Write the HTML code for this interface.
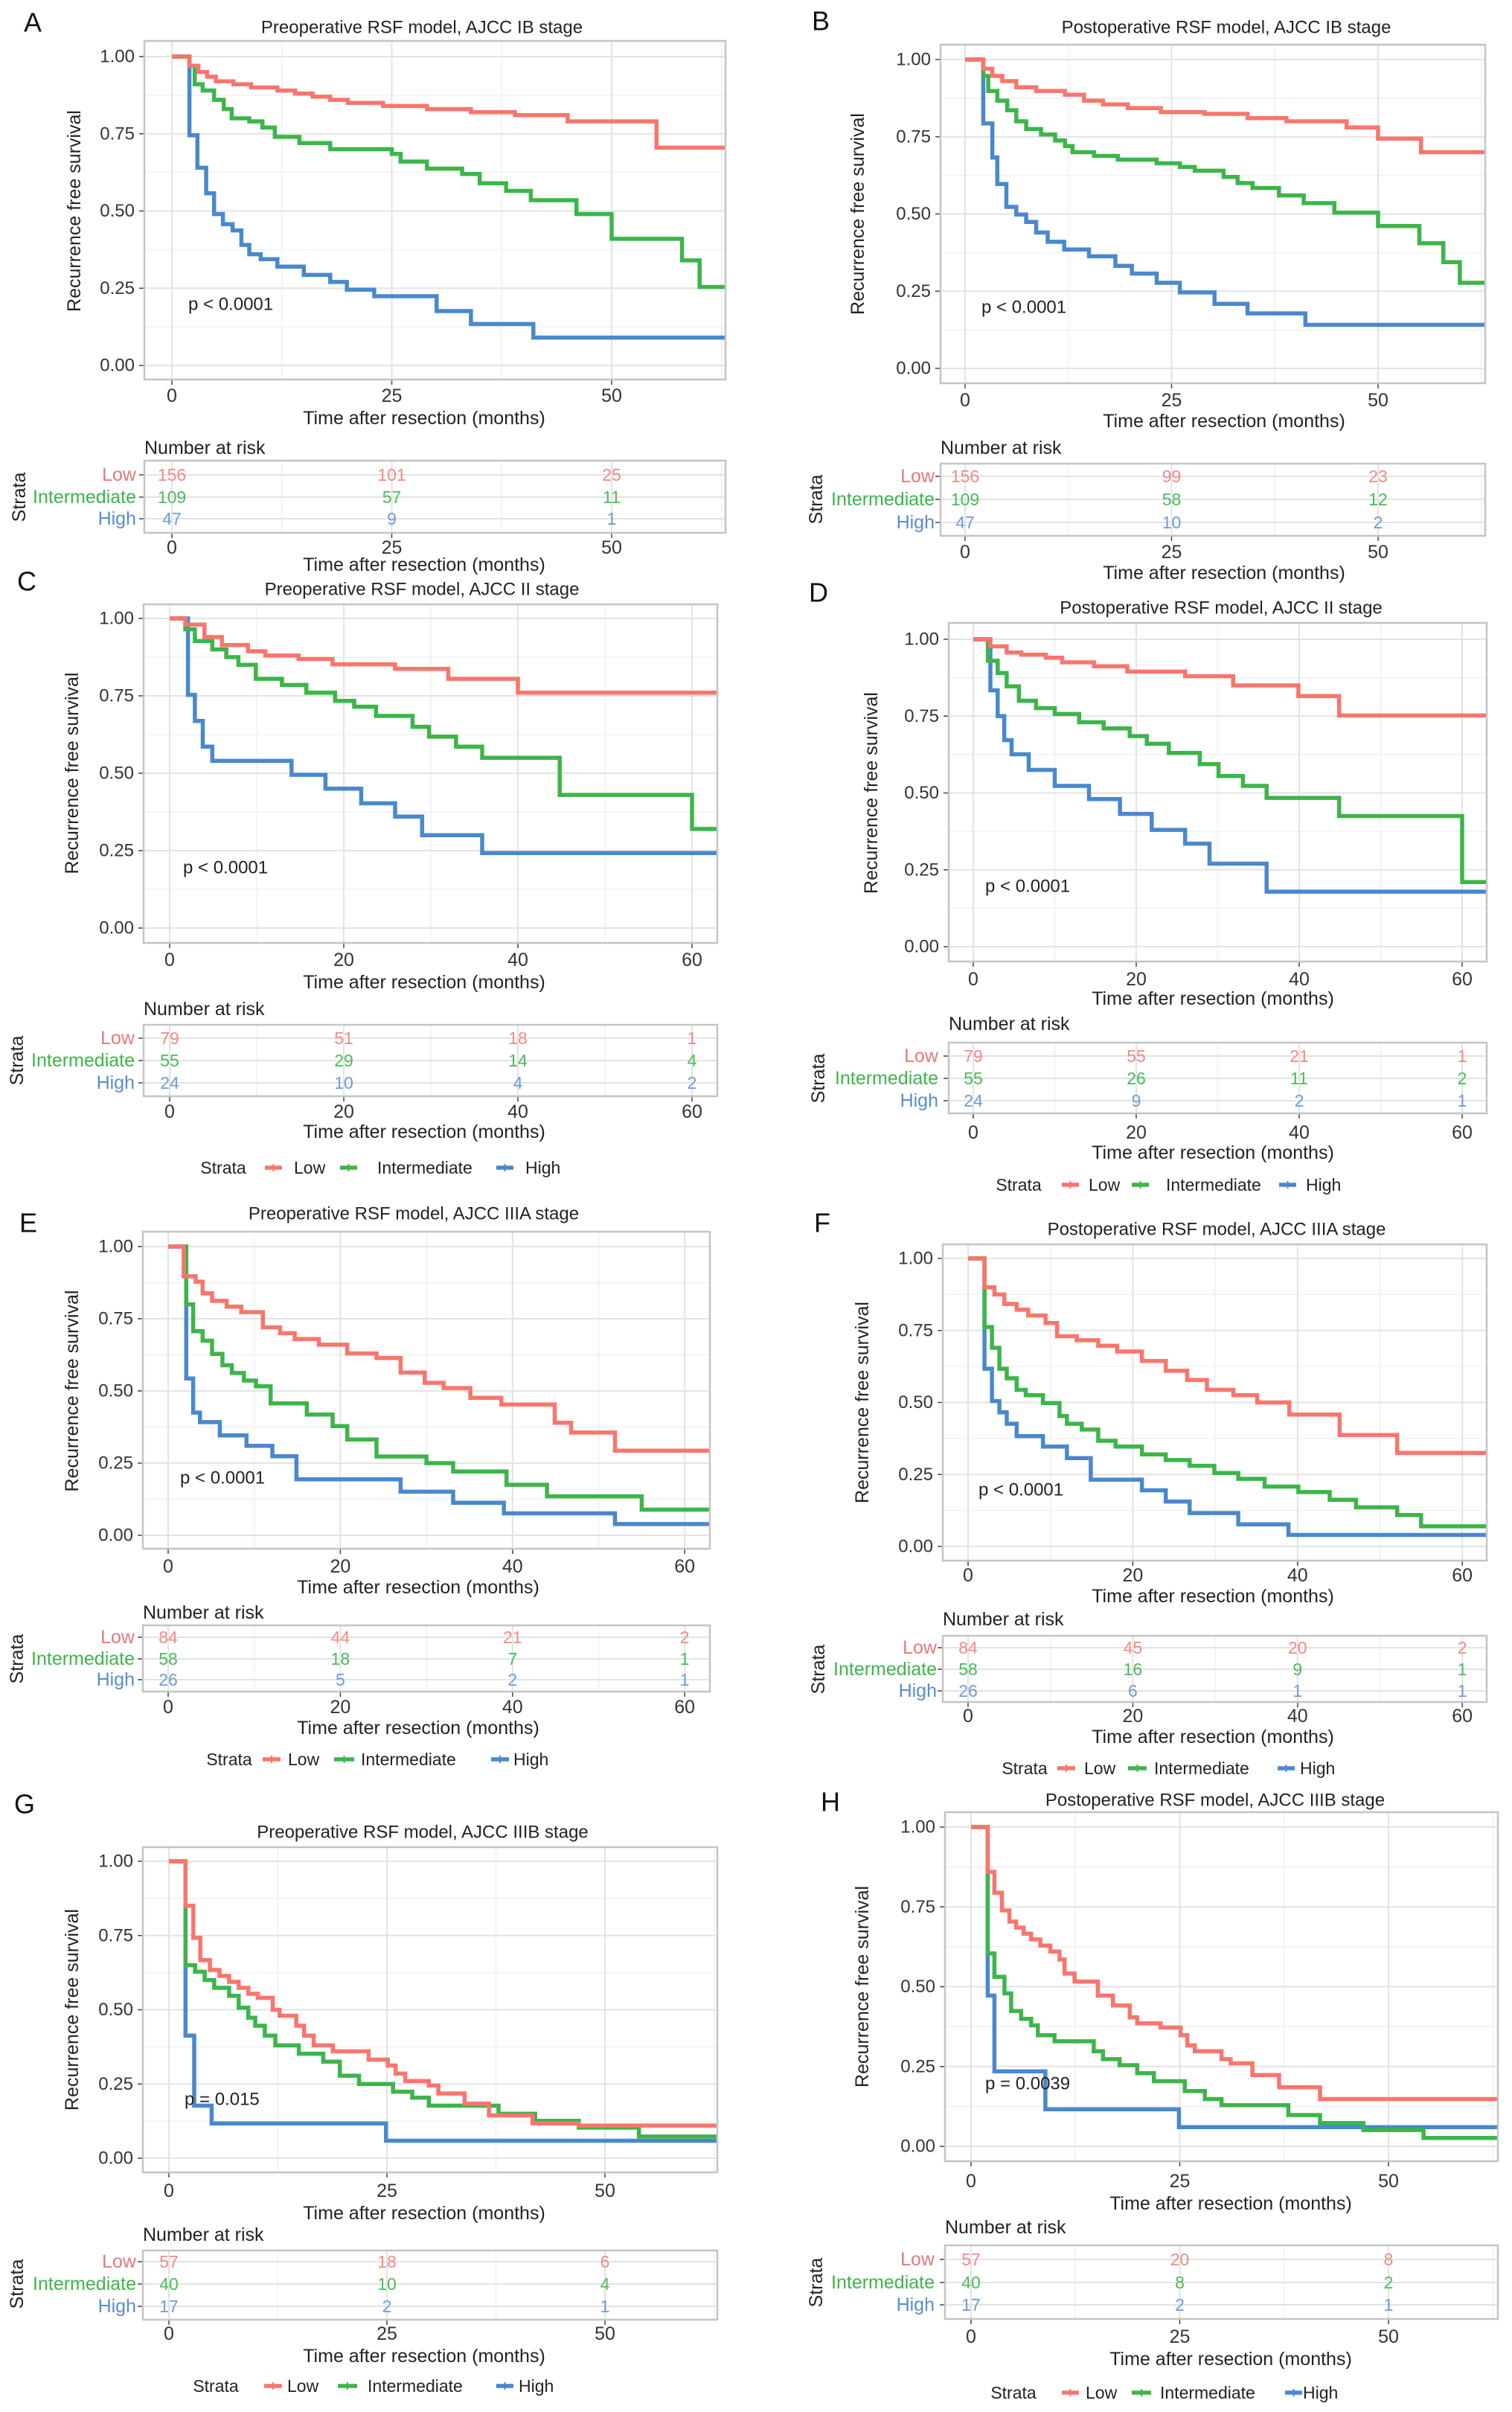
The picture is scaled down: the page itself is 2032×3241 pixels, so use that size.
<!DOCTYPE html>
<html><head><meta charset="utf-8"><title>RSF Kaplan-Meier panels</title>
<style>
html,body{margin:0;padding:0;background:#fff;}
svg{display:block;font-family:"Liberation Sans",Arial,sans-serif;}
</style></head>
<body>
<svg id="fig" xmlns="http://www.w3.org/2000/svg" width="2032" height="3241" viewBox="0 0 2032 3241"></svg>
<script>
// ---------- DATA (times in months, survival after each step) ----------
const A_low_t=[2,3,4,5,7,9,12,14,16,18,20,24,29,34,39,45,55.1];
const A_low_s=[0.97,0.95,0.935,0.92,0.91,0.90,0.89,0.88,0.87,0.86,0.85,0.84,0.83,0.82,0.81,0.79,0.705];
const A_int_t=[2,2.6,3.5,4.8,5.9,6.8,8.8,10.3,11.7,14.5,18,25,26,29,33,35,38,40.8,46,50,58,60];
const A_int_s=[0.97,0.91,0.89,0.86,0.83,0.80,0.79,0.77,0.74,0.72,0.70,0.685,0.66,0.637,0.62,0.59,0.565,0.535,0.49,0.41,0.34,0.254];
const A_high_t=[2,2.9,3.9,4.8,5.8,6.9,7.9,8.8,10.1,12,15,18,19.9,23,30.1,34,41.1];
const A_high_s=[0.745,0.64,0.557,0.49,0.457,0.437,0.39,0.36,0.344,0.32,0.293,0.27,0.245,0.224,0.176,0.134,0.09];

const B_low_t=[2.2,3.3,4.5,6.2,8.6,12.1,14.4,16.7,19.7,23.7,29,34.2,38.9,46.2,50,55.2];
const B_low_s=[0.97,0.947,0.93,0.91,0.898,0.886,0.867,0.855,0.843,0.83,0.824,0.81,0.80,0.78,0.744,0.70];
const B_int_t=[2.2,2.8,3.9,5.1,6.2,7.4,9.2,10.9,12.1,13,15.6,18.5,23.2,26,27.8,31.3,33,34.8,38,41,44.7,50,55,57.9,59.9];
const B_int_s=[0.947,0.898,0.867,0.836,0.80,0.775,0.757,0.738,0.72,0.70,0.688,0.676,0.664,0.652,0.64,0.62,0.60,0.584,0.56,0.535,0.504,0.461,0.405,0.344,0.277];
const B_high_t=[2.2,3.3,3.9,5,6.2,7.4,8.6,10,12,15,18.2,20.2,23.2,26,30.2,34.2,41.2];
const B_high_s=[0.793,0.683,0.597,0.523,0.498,0.474,0.44,0.41,0.385,0.363,0.332,0.307,0.277,0.246,0.209,0.178,0.141];

const C_low_t=[1.8,4,6,9,11,14.8,18.7,25.9,32,40];
const C_low_s=[0.98,0.94,0.914,0.894,0.88,0.869,0.852,0.837,0.805,0.76];
const C_int_t=[1.8,2.9,4.9,6.5,7.9,9.9,12.9,15.7,19,21.2,23.7,27.9,29.8,32.9,35.9,44.8,60];
const C_int_s=[0.965,0.927,0.90,0.875,0.85,0.805,0.785,0.76,0.734,0.715,0.685,0.65,0.618,0.586,0.55,0.43,0.32];
const C_high_t=[2.1,2.9,3.8,4.9,14,17.9,22,25.9,29,35.9];
const C_high_s=[0.753,0.669,0.586,0.54,0.495,0.45,0.403,0.36,0.30,0.242];

const D_low_t=[2.1,4.1,5.9,8.9,10.9,14.8,18.9,26,31.9,39.9,44.9];
const D_low_s=[0.977,0.957,0.95,0.94,0.925,0.912,0.895,0.88,0.85,0.815,0.752];
const D_int_t=[1.8,3,4.1,5.6,7.7,10,13,16,19.2,21.3,24,27.8,30.1,33.1,36,44.9,60];
const D_int_s=[0.93,0.89,0.847,0.80,0.776,0.757,0.73,0.71,0.685,0.66,0.63,0.594,0.555,0.523,0.484,0.425,0.21];
const D_high_t=[2.1,3,3.8,4.7,6.8,10,14.2,18,21.9,26,29,36];
const D_high_s=[0.834,0.75,0.672,0.626,0.575,0.523,0.48,0.432,0.38,0.335,0.27,0.179];

const E_low_t=[1.8,3.2,4,5.1,6.8,8.5,11,13,14.7,17.5,20.8,24.2,27,29.8,32,35.1,38.7,44.9,46.8,51.9];
const E_low_s=[0.897,0.878,0.838,0.812,0.792,0.773,0.72,0.70,0.68,0.66,0.63,0.614,0.564,0.528,0.51,0.476,0.453,0.39,0.356,0.293];
const E_int_t=[2.1,2.9,4,5.1,6.3,7.4,8.8,10.2,11.9,16.1,19.1,20.8,24.2,30,33.1,39.3,44,55];
const E_int_s=[0.80,0.707,0.674,0.628,0.589,0.562,0.536,0.516,0.457,0.418,0.378,0.332,0.273,0.25,0.221,0.175,0.135,0.089];
const E_high_t=[2.1,2.9,3.7,6,9.1,12.1,14.9,27,33.1,39,51.9];
const E_high_s=[0.543,0.425,0.392,0.346,0.31,0.274,0.194,0.151,0.113,0.076,0.039];

const F_low_t=[2,3.2,4.4,5.9,7.3,9.4,10.8,13.2,15.8,18.1,21.1,24,26.6,29,32.2,35.1,39,45.1,52.1];
const F_low_s=[0.90,0.875,0.842,0.822,0.802,0.776,0.73,0.716,0.697,0.677,0.644,0.61,0.578,0.544,0.525,0.50,0.458,0.387,0.325];
const F_int_t=[2,2.9,3.8,4.7,5.9,7,9.1,11.1,12,13.8,15.8,17.9,21.1,24,26.9,29.9,32.8,36,40.1,43.9,47.1,52.1,55];
const F_int_s=[0.762,0.69,0.617,0.584,0.544,0.525,0.498,0.453,0.426,0.406,0.367,0.347,0.32,0.30,0.28,0.255,0.235,0.208,0.189,0.162,0.136,0.109,0.07];
const F_high_t=[2,2.9,3.8,4.7,5.9,9.1,12,14.9,21.1,24,26.9,32.8,38.9];
const F_high_s=[0.617,0.505,0.466,0.426,0.383,0.347,0.307,0.232,0.195,0.156,0.116,0.077,0.04];

const G_low_t=[1.9,2.8,3.6,4.7,5.8,6.9,8,9.1,10.2,11.9,12.7,14.6,15.5,16.6,18.8,22.9,25.1,26,27.1,29.8,30.9,33.9,36.7,41.7,47];
const G_low_s=[0.85,0.742,0.667,0.634,0.614,0.594,0.574,0.554,0.54,0.50,0.48,0.446,0.413,0.38,0.36,0.332,0.312,0.285,0.26,0.245,0.218,0.184,0.144,0.117,0.11];
const G_int_t=[1.9,3,4.1,5.2,6.9,8,9.1,9.9,11,12.2,14.9,17.7,19.6,21.8,25.7,27.9,29.8,37.8,42,47,53.9];
const G_int_s=[0.65,0.628,0.60,0.574,0.547,0.507,0.473,0.446,0.413,0.38,0.352,0.325,0.278,0.25,0.224,0.204,0.177,0.15,0.126,0.103,0.073];
const G_high_t=[1.9,2.9,4.9,24.9];
const G_high_s=[0.413,0.177,0.117,0.059];

const H_low_t=[2,2.8,3.7,4.6,5.4,6.3,7.2,8.3,9.5,10.6,11.2,12.4,15.2,17,19,19.9,22.7,25.1,25.9,26.8,30,31.1,33.7,36.9,41.8];
const H_low_s=[0.86,0.794,0.739,0.704,0.685,0.666,0.648,0.629,0.61,0.585,0.541,0.516,0.472,0.441,0.404,0.385,0.372,0.348,0.316,0.298,0.273,0.26,0.223,0.185,0.148];
const H_int_t=[2,2.8,4,4.8,6,7.2,8,10,14.7,15.8,17.8,19.9,21.9,25.6,28,30,38,41.8,47,54.2];
const H_int_s=[0.604,0.531,0.479,0.424,0.399,0.379,0.348,0.329,0.298,0.273,0.254,0.229,0.204,0.173,0.148,0.129,0.098,0.073,0.051,0.026];
const H_high_t=[2,2.8,8.9,24.9];
const H_high_s=[0.472,0.235,0.116,0.06];

// number at risk
const A_risk_low=[156,101,25], A_risk_int=[109,57,11], A_risk_high=[47,9,1];
const B_risk_low=[156,99,23],  B_risk_int=[109,58,12], B_risk_high=[47,10,2];
const C_risk_low=[79,51,18,1], C_risk_int=[55,29,14,4], C_risk_high=[24,10,4,2];
const D_risk_low=[79,55,21,1], D_risk_int=[55,26,11,2], D_risk_high=[24,9,2,1];
const E_risk_low=[84,44,21,2], E_risk_int=[58,18,7,1],  E_risk_high=[26,5,2,1];
const F_risk_low=[84,45,20,2], F_risk_int=[58,16,9,1],  F_risk_high=[26,6,1,1];
const G_risk_low=[57,18,6],    G_risk_int=[40,10,4],    G_risk_high=[17,2,1];
const H_risk_low=[57,20,8],    H_risk_int=[40,8,2],     H_risk_high=[17,2,1];

// tick values / labels
const ticks25=[0,25,50];
const ticks20=[0,20,40,60];
const yTicks=[0,0.25,0.5,0.75,1];
const yTickLabels=['0.00','0.25','0.50','0.75','1.00'];
const strataNames=['Low','Intermediate','High'];
const titles=['Preoperative RSF model, AJCC IB stage','Postoperative RSF model, AJCC IB stage',
 'Preoperative RSF model, AJCC II stage','Postoperative RSF model, AJCC II stage',
 'Preoperative RSF model, AJCC IIIA stage','Postoperative RSF model, AJCC IIIA stage',
 'Preoperative RSF model, AJCC IIIB stage','Postoperative RSF model, AJCC IIIB stage'];
const pvals=['p < 0.0001','p < 0.0001','p < 0.0001','p < 0.0001','p < 0.0001','p < 0.0001','p = 0.015','p = 0.0039'];

// ---------- LAYOUT ----------
const COL={low:'#F8766D',int:'#3CB54A',high:'#4A88CC'};
const RCOL={low:'#EF8B85',int:'#4DBA5A',high:'#6F9BD6'};
const LCOL={low:'#E9777A',int:'#3DB54A',high:'#5A8CCF'};
const panels=[
 {id:'A',L:[32,30],box:[194,55,975,510],x0:231,ppm:11.82,y1:76,y0:491,ticks:ticks25,tcx:567,ty:37,tk:532,xt:562,xcx:570,nar:602,rb:[619,716],rows:[638,668,697],rtk:736,rxt:759,rl:183,sx:26,yl:100,p:[253,409],
  s:{low:[A_low_t,A_low_s],int:[A_int_t,A_int_s],high:[A_high_t,A_high_s]},r:{low:A_risk_low,int:A_risk_int,high:A_risk_high}},
 {id:'B',L:[1091,28],box:[1264,60,1996,515],x0:1297,ppm:11.1,y1:80,y0:495,ticks:ticks25,tcx:1648,ty:37,tk:538,xt:566,xcx:1645,nar:602,rb:[623,720],rows:[640,671,702],rtk:742,rxt:770,rl:1256,sx:1097,yl:1153,p:[1319,413],
  s:{low:[B_low_t,B_low_s],int:[B_int_t,B_int_s],high:[B_high_t,B_high_s]},r:{low:B_risk_low,int:B_risk_int,high:B_risk_high}},
 {id:'C',L:[23,781],box:[193,812,964,1267],x0:228,ppm:11.7,y1:831,y0:1247,ticks:ticks20,tcx:567,ty:792,tk:1290,xt:1320,xcx:570,nar:1356,rb:[1377,1473],rows:[1395,1425,1455],rtk:1494,rxt:1521,rl:181,sx:23,yl:97,p:[246,1166],
  leg:{y:1569,st:300,lo:[356,379,395],in:[457,480,507],hi:[667,690,706]},
  s:{low:[C_low_t,C_low_s],int:[C_int_t,C_int_s],high:[C_high_t,C_high_s]},r:{low:C_risk_low,int:C_risk_int,high:C_risk_high}},
 {id:'D',L:[1087,796],box:[1275,837,1998,1292],x0:1308,ppm:10.95,y1:859,y0:1272,ticks:ticks20,tcx:1641,ty:817,tk:1316,xt:1342,xcx:1630,nar:1376,rb:[1401,1496],rows:[1419,1449,1479],rtk:1522,rxt:1549,rl:1261,sx:1100,yl:1171,p:[1324,1191],
  leg:{y:1592,st:1369,lo:[1427,1450,1463],in:[1521,1544,1567],hi:[1719,1742,1755]},
  s:{low:[D_low_t,D_low_s],int:[D_int_t,D_int_s],high:[D_high_t,D_high_s]},r:{low:D_risk_low,int:D_risk_int,high:D_risk_high}},
 {id:'E',L:[26,1643],box:[192,1655,954,2081],x0:226,ppm:11.57,y1:1675,y0:2063,ticks:ticks20,tcx:556,ty:1631,tk:2105,xt:2133,xcx:562,nar:2167,rb:[2184,2273],rows:[2200,2229,2257],rtk:2294,rxt:2322,rl:181,sx:23,yl:97,p:[242,1986],
  leg:{y:2364,st:308,lo:[353,377,387],in:[449,476,485],hi:[660,684,690]},
  s:{low:[E_low_t,E_low_s],int:[E_int_t,E_int_s],high:[E_high_t,E_high_s]},r:{low:E_risk_low,int:E_risk_int,high:E_risk_high}},
 {id:'F',L:[1094,1643],box:[1267,1672,1998,2097],x0:1301,ppm:11.07,y1:1691,y0:2078,ticks:ticks20,tcx:1635,ty:1652,tk:2117,xt:2145,xcx:1630,nar:2176,rb:[2198,2287],rows:[2214,2243,2272],rtk:2306,rxt:2334,rl:1259,sx:1100,yl:1159,p:[1315,2002],
  leg:{y:2376,st:1377,lo:[1421,1445,1457],in:[1516,1541,1551],hi:[1717,1740,1747]},
  s:{low:[F_low_t,F_low_s],int:[F_int_t,F_int_s],high:[F_high_t,F_high_s]},r:{low:F_risk_low,int:F_risk_int,high:F_risk_high}},
 {id:'G',L:[19,2424],box:[192,2482,964,2919],x0:227,ppm:11.72,y1:2501,y0:2900,ticks:ticks25,tcx:568,ty:2462,tk:2944,xt:2974,xcx:570,nar:3003,rb:[3024,3117],rows:[3039,3069,3099],rtk:3136,rxt:3166,rl:183,sx:23,yl:97,p:[248,2821],
  leg:{y:3206,st:290,lo:[355,379,386],in:[454,480,494],hi:[667,690,697]},
  s:{low:[G_low_t,G_low_s],int:[G_int_t,G_int_s],high:[G_high_t,G_high_s]},r:{low:G_risk_low,int:G_risk_int,high:G_risk_high}},
 {id:'H',L:[1103,2421],box:[1270,2435,2013,2904],x0:1305,ppm:11.22,y1:2455,y0:2884,ticks:ticks25,tcx:1633,ty:2419,tk:2931,xt:2961,xcx:1654,nar:2993,rb:[3017,3116],rows:[3036,3067,3097],rtk:3140,rxt:3170,rl:1256,sx:1097,yl:1159,p:[1324,2800],
  leg:{y:3215,st:1362,lo:[1427,1450,1459],in:[1521,1547,1559],hi:[1727,1750,1751]},
  s:{low:[H_low_t,H_low_s],int:[H_int_t,H_int_s],high:[H_high_t,H_high_s]},r:{low:H_risk_low,int:H_risk_int,high:H_risk_high}}
];

const NS='http://www.w3.org/2000/svg';
const svg=document.getElementById('fig');
function mk(tag,attrs,parent,name){
  const e=document.createElementNS(NS,tag);
  for(const k in attrs) e.setAttribute(k,attrs[k]);
  
  
  parent.appendChild(e);
  return e;
}
function txt(parent,x,y,s,size,fill,anchor,name,extra){
  const a={x:x,y:y,'font-size':size,fill:fill,'text-anchor':anchor,'dominant-baseline':'central'};
  if(extra) for(const k in extra) a[k]=extra[k];
  const t=mk('text',a,parent,name);
  t.textContent=s;
  return t;
}
const keys=['low','int','high'];

panels.forEach((P,pi)=>{
  const g=mk('g',{},svg,'panel-'+P.id.toLowerCase());
  const [bl,bt,br,bb]=P.box;
  const X=t=>P.x0+t*P.ppm;
  const Y=s=>P.y0-s*(P.y0-P.y1);
  const step=P.ticks[1]-P.ticks[0];
  txt(g,P.L[0],P.L[1],P.id,36,'#111','start','panel-letter');
  txt(g,P.tcx,P.ty,titles[pi],24,'#222','middle','plot-title');
  // plot background + grid
  const plot=mk('g',{},g,'plot-area');
  mk('rect',{x:bl,y:bt,width:br-bl,height:bb-bt,fill:'#fff'},plot,'plot-background');
  for(let v=0.125;v<1;v+=0.25){mk('line',{x1:bl,x2:br,y1:Y(v),y2:Y(v),stroke:'#f0f0f0','stroke-width':1.5},plot,'y-minor-gridline');}
  for(let v=P.ticks[0]-step/2;X(v)<br;v+=step){ if(X(v)>bl) mk('line',{x1:X(v),x2:X(v),y1:bt,y2:bb,stroke:'#f0f0f0','stroke-width':1.5},plot,'x-minor-gridline');}
  yTicks.forEach((v,i)=>{
    mk('line',{x1:bl,x2:br,y1:Y(v),y2:Y(v),stroke:'#e3e3e3','stroke-width':2},plot,'y-gridline');
    mk('line',{x1:bl-7,x2:bl,y1:Y(v),y2:Y(v),stroke:'#444','stroke-width':1.5},plot,'y-tick');
    txt(plot,bl-13,Y(v),yTickLabels[i],24,'#333','end','y-tick-label');
  });
  P.ticks.forEach(v=>{
    mk('line',{x1:X(v),x2:X(v),y1:bt,y2:bb,stroke:'#e3e3e3','stroke-width':2},plot,'x-gridline');
    mk('line',{x1:X(v),x2:X(v),y1:bb,y2:bb+7,stroke:'#444','stroke-width':1.5},plot,'x-tick');
    txt(plot,X(v),P.tk,String(v),25,'#333','middle','x-tick-label');
  });
  // curves
  const clipId='clip'+P.id;
  const cp=mk('clipPath',{id:clipId},plot,'plot-clip');
  mk('rect',{x:bl,y:bt,width:br-bl,height:bb-bt},cp,'plot-clip-rect');
  const cg=mk('g',{'clip-path':'url(#'+clipId+')'},plot,'curves');
  keys.slice().reverse().forEach(k=>{
    const [ts,ss]=P.s[k];
    let d='M'+X(0)+','+Y(1);
    ts.forEach((t,i)=>{ d+=' H'+X(t).toFixed(1)+' V'+Y(ss[i]).toFixed(1); });
    d+=' H'+(br+5);
    mk('path',{d:d,fill:'none',stroke:COL[k],'stroke-width':5.5,'stroke-linejoin':'miter'},cg,'km-curve-'+k);
  });
  mk('rect',{x:bl,y:bt,width:br-bl,height:bb-bt,fill:'none',stroke:'#c4c4c4','stroke-width':2.5},plot,'plot-border');
  txt(g,P.p[0],P.p[1],pvals[pi],24,'#222','start','p-value');
  txt(g,P.yl,(P.y0+P.y1)/2,'Recurrence free survival',25,'#222','middle','y-axis-title',{transform:'rotate(-90 '+P.yl+' '+((P.y0+P.y1)/2)+')'});
  txt(g,P.xcx,P.xt,'Time after resection (months)',25,'#222','middle','x-axis-title');
  // risk table
  const rt=mk('g',{},g,'risk-table');
  txt(rt,bl,P.nar,'Number at risk',25,'#222','start','risk-table-title');
  const [rt0,rb0]=P.rb;
  mk('rect',{x:bl,y:rt0,width:br-bl,height:rb0-rt0,fill:'#fff'},rt,'risk-background');
  for(let v=P.ticks[0]-step/2;X(v)<br;v+=step){ if(X(v)>bl) mk('line',{x1:X(v),x2:X(v),y1:rt0,y2:rb0,stroke:'#f0f0f0','stroke-width':1.5},rt,'risk-minor-gridline');}
  P.ticks.forEach(v=>{
    mk('line',{x1:X(v),x2:X(v),y1:rt0,y2:rb0,stroke:'#e3e3e3','stroke-width':2},rt,'risk-gridline');
    mk('line',{x1:X(v),x2:X(v),y1:rb0,y2:rb0+7,stroke:'#444','stroke-width':1.5},rt,'risk-x-tick');
    txt(rt,X(v),P.rtk,String(v),25,'#333','middle','risk-x-tick-label');
  });
  keys.forEach((k,ri)=>{
    const y=P.rows[ri];
    mk('line',{x1:bl,x2:br,y1:y,y2:y,stroke:'#e3e3e3','stroke-width':2},rt,'risk-row-gridline');
    mk('line',{x1:bl-7,x2:bl,y1:y,y2:y,stroke:'#444','stroke-width':1.5},rt,'risk-row-tick');
    txt(rt,P.rl,y,strataNames[ri],25,LCOL[k],'end','risk-row-label');
    P.r[k].forEach((n,j)=>{ txt(rt,X(P.ticks[j]),y,String(n),23,RCOL[k],'middle','risk-count'); });
  });
  mk('rect',{x:bl,y:rt0,width:br-bl,height:rb0-rt0,fill:'none',stroke:'#c4c4c4','stroke-width':2.5},rt,'risk-border');
  txt(rt,P.sx,P.rows[1],'Strata',25,'#222','middle','risk-strata-title',{transform:'rotate(-90 '+P.sx+' '+P.rows[1]+')'});
  txt(rt,P.xcx,P.rxt,'Time after resection (months)',25,'#222','middle','risk-x-axis-title');
  // legend
  if(P.leg){
    const L=P.leg;
    const lg=mk('g',{},g,'legend');
    txt(lg,L.st,L.y,'Strata',23,'#222','middle','legend-title');
    [['low',L.lo,'Low'],['int',L.in,'Intermediate'],['high',L.hi,'High']].forEach(([k,pos,lab])=>{
      mk('line',{x1:pos[0],x2:pos[1],y1:L.y,y2:L.y,stroke:COL[k],'stroke-width':5.5},lg,'legend-key-'+k);
      mk('line',{x1:(pos[0]+pos[1])/2,x2:(pos[0]+pos[1])/2,y1:L.y-5,y2:L.y+5,stroke:COL[k],'stroke-width':2},lg,'legend-censor-mark');
      txt(lg,pos[2],L.y,lab,23,'#222','start','legend-label-'+k);
    });
  }
});
</script>
</body></html>
